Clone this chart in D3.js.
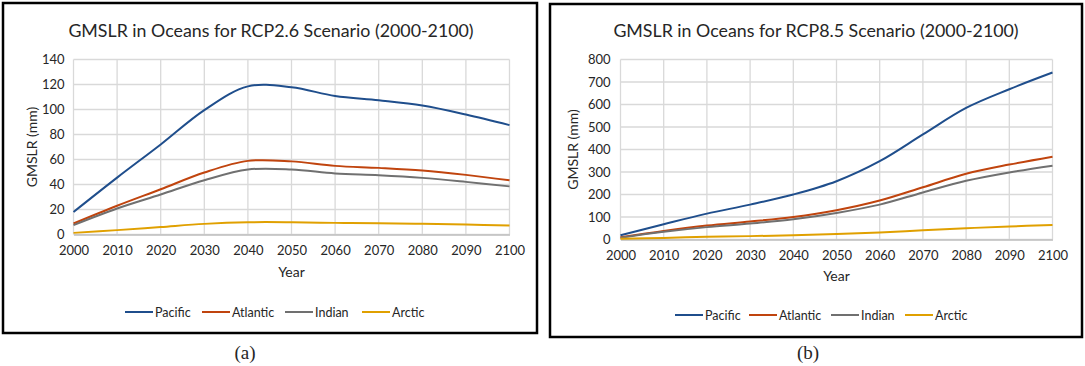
<!DOCTYPE html>
<html>
<head>
<meta charset="utf-8">
<script src="https://cdn.jsdelivr.net/npm/d3@7"></script>
<style>
  body { margin: 0; background: #fff; }
  text { font-family: Lato, "Open Sans", sans-serif; fill: #262626; }
</style>
</head>
<body>
<div id="chart"></div>
<script>
// years on the x axis
var years = [2000, 2010, 2020, 2030, 2040, 2050, 2060, 2070, 2080, 2090, 2100];
var oceans = ["Pacific", "Atlantic", "Indian", "Arctic"];
var colors = ["#1f4e8c", "#c0440e", "#707070", "#e0a000"];

// RCP2.6 values (mm)
var pacific26  = [18, 45.5, 72, 99.5, 118.5, 117.8, 110.8, 107.4, 103.2, 96, 87.5];
var atlantic26 = [8.8, 23, 36.2, 49.6, 58.9, 58.5, 54.9, 53.3, 51.2, 47.7, 43.4];
var indian26   = [7.5, 20.8, 32, 43.4, 52, 52, 48.8, 47.4, 45.3, 42.1, 38.5];
var arctic26   = [1.3, 3.5, 6, 8.5, 9.8, 9.8, 9.3, 9, 8.6, 8, 7.2];

// RCP8.5 values (mm)
var pacific85  = [19, 68, 115, 155, 200, 259, 348, 467, 585, 668, 742];
var atlantic85 = [10, 38, 62, 80, 100, 130, 173, 232, 292, 333, 368];
var indian85   = [8, 34, 55, 71, 90, 118, 155, 209, 261, 298, 328];
var arctic85   = [3, 7, 12, 15, 19, 24, 31, 41, 50, 58, 64];

var yTicks26 = [0, 20, 40, 60, 80, 100, 120, 140];
var yTicks85 = [0, 100, 200, 300, 400, 500, 600, 700, 800];

var svg = d3.select("#chart").append("svg")
    .attr("width", 1085)
    .attr("height", 366);

function drawPanel(opt) {
  var g = svg.append("g");

  // frame
  g.append("rect")
    .attr("x", opt.box[0]).attr("y", opt.box[1])
    .attr("width", opt.box[2]).attr("height", opt.box[3])
    .attr("fill", "none").attr("stroke", "#000").attr("stroke-width", 2.5);

  var x = d3.scaleLinear().domain([2000, 2100]).range([opt.x0, opt.x1]);
  var y = d3.scaleLinear().domain([0, opt.yMax]).range([opt.y0, opt.y1]);

  // grid
  g.append("g").selectAll("line.v")
    .data(years).enter().append("line")
      .attr("x1", function(d) { return x(d); })
      .attr("x2", function(d) { return x(d); })
      .attr("y1", y(0)).attr("y2", y(opt.yMax))
      .attr("stroke", "#d9d9d9").attr("stroke-width", 1.3);
  g.append("g").selectAll("line.h")
    .data(opt.ticks).enter().append("line")
      .attr("x1", x(2000)).attr("x2", x(2100))
      .attr("y1", function(d) { return y(d); })
      .attr("y2", function(d) { return y(d); })
      .attr("stroke", "#d9d9d9").attr("stroke-width", 1.3);

  // axes
  var xAxis = g.append("g")
    .attr("transform", "translate(0," + y(0) + ")")
    .call(d3.axisBottom(x).tickValues(years).tickFormat(d3.format("d")).tickSize(0).tickPadding(11));
  xAxis.select(".domain").attr("stroke", "#bfbfbf").attr("stroke-width", 1.3);
  xAxis.selectAll("text").attr("font-size", 13).style("font-family", "Lato, sans-serif").attr("fill", "#262626");

  var yAxis = g.append("g")
    .attr("transform", "translate(" + x(2000) + ",0)")
    .call(d3.axisLeft(y).tickValues(opt.ticks).tickSize(0).tickPadding(opt.padY));
  yAxis.select(".domain").remove();
  yAxis.selectAll("text").attr("font-size", 13).style("font-family", "Lato, sans-serif").attr("fill", "#262626");

  // lines
  var line = d3.line()
    .x(function(d, i) { return x(years[i]); })
    .y(function(d) { return y(d); })
    .curve(d3.curveCatmullRom);

  opt.series.forEach(function(s, i) {
    g.append("path")
      .datum(s)
      .attr("d", line)
      .attr("fill", "none")
      .attr("stroke", colors[i])
      .attr("stroke-width", 2);
  });

  // titles
  g.append("text")
    .attr("x", opt.titleX).attr("y", 37)
    .attr("text-anchor", "middle")
    .attr("font-size", 17.8)
    .text(opt.title);

  g.append("text")
    .attr("transform", "translate(" + opt.yTitleX + "," + ((opt.y0 + opt.y1) / 2) + ") rotate(-90)")
    .attr("text-anchor", "middle")
    .attr("font-size", 14)
    .text("GMSLR (mm)");

  g.append("text")
    .attr("x", (opt.x0 + opt.x1) / 2).attr("y", opt.yearY)
    .attr("text-anchor", "middle")
    .attr("font-size", 14)
    .text("Year");

  // legend
  var leg = g.append("g").selectAll("g")
    .data(oceans).enter().append("g")
      .attr("transform", function(d, i) { return "translate(" + opt.legX[i] + "," + opt.legY + ")"; });
  leg.append("line")
    .attr("x1", 0).attr("x2", 28)
    .attr("stroke", function(d, i) { return colors[i]; })
    .attr("stroke-width", 2);
  leg.append("text")
    .attr("x", 30).attr("y", 4.5)
    .attr("font-size", 12.5)
    .text(function(d) { return d; });

  // panel label
  g.append("text")
    .attr("x", opt.labelX).attr("y", 359)
    .attr("text-anchor", "middle")
    .style("font-family", "'Liberation Serif', 'DejaVu Serif', serif")
    .attr("font-size", 19)
    .attr("fill", "#000")
    .text(opt.label);
}

drawPanel({
  box: [3, 3, 534, 330],
  x0: 73.5, x1: 509.5, y0: 234.5, y1: 59.5,
  yMax: 140, ticks: yTicks26, padY: 9,
  series: [pacific26, atlantic26, indian26, arctic26],
  title: "GMSLR in Oceans for RCP2.6 Scenario (2000-2100)",
  titleX: 271, yTitleX: 37, yearY: 277,
  legX: [125, 202, 285, 362], legY: 312,
  labelX: 245, label: "(a)"
});

drawPanel({
  box: [550, 4, 532, 333],
  x0: 620.5, x1: 1052.5, y0: 239.5, y1: 59.5,
  yMax: 800, ticks: yTicks85, padY: 10,
  series: [pacific85, atlantic85, indian85, arctic85],
  title: "GMSLR in Oceans for RCP8.5 Scenario (2000-2100)",
  titleX: 816, yTitleX: 578, yearY: 281,
  legX: [675, 749, 831, 905], legY: 315,
  labelX: 808, label: "(b)"
});
</script>
</body>
</html>
